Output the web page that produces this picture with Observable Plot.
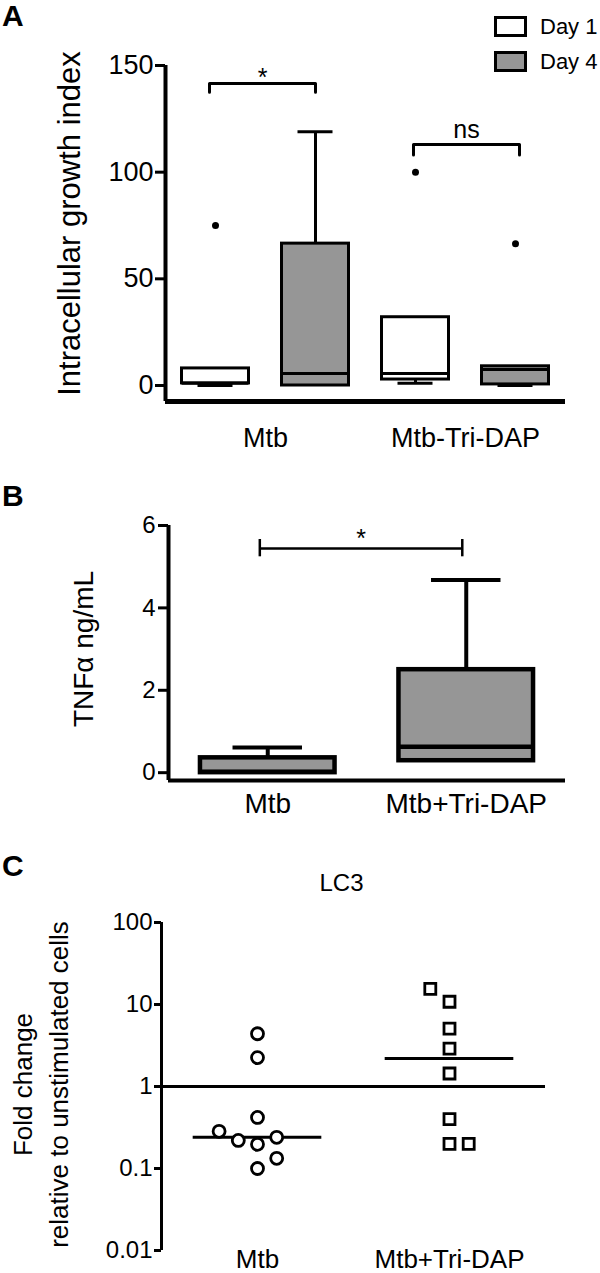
<!DOCTYPE html>
<html><head><meta charset="utf-8">
<script src="https://cdn.jsdelivr.net/npm/d3@7"></script>
<script src="https://cdn.jsdelivr.net/npm/@observablehq/plot@0.6"></script>
<style>
body{margin:0;background:#fff;font-family:"Liberation Sans",Arial,sans-serif;color:#000;}
#wrap{position:relative;width:600px;height:1273px;overflow:hidden;background:#fff;}
.panel{position:absolute;left:0;}
.letter{position:absolute;left:2px;font-weight:bold;font-size:30px;line-height:30px;}
#legend{position:absolute;left:494px;top:16px;}
.row{display:flex;align-items:center;height:21px;margin-bottom:14px;}
.sw{width:33px;height:21px;box-sizing:border-box;border:3px solid #000;}
.lt{margin-left:13px;font-size:22px;line-height:21px;}
</style></head>
<body>
<div id="wrap">
  <div class="panel" id="pA" style="top:0"></div>
  <div class="panel" id="pB" style="top:470px"></div>
  <div class="panel" id="pC" style="top:840px"></div>
  <div class="letter" style="top:1px">A</div>
  <div class="letter" style="top:481px">B</div>
  <div class="letter" style="top:851px">C</div>
  <div id="legend"></div>
</div>
<script>
const FONT = "Liberation Sans, Arial, sans-serif";
const GRAY = "#969696";

// ---------- Panel A data ----------
const aGroups = ["Mtb", "Mtb-Tri-DAP"];
const aDays = ["Day 1", "Day 4"];
const aFills = ["white", GRAY];
const aBoxGroup = [0, 0, 1, 1];
const aBoxDay = [0, 1, 0, 1];
const aMin = [0, 0, 1, 0];
const aQ1 = [1, 0, 2.8, 0.5];
const aMedian = [1, 5.6, 5.6, 7.5];
const aQ3 = [8, 66.5, 32, 9];
const aMax = [8, 119, 32, 9];
const aOutlier = [75, null, 100, 66.5];
const aYTicks = [0, 50, 100, 150];
const aYDomain = [-7.5, 150];
const aYTitle = "Intracellular growth index";
const aBracketLabel = ["*", "ns"];
const aBracketX1 = [0.44, 2.48];
const aBracketX2 = [1.5, 3.54];
const aBracketY = [141.6, 113];
const aBracketTip = [137.5, 108];
const aBracketLabelY = [144, 120];

// ---------- Panel B data ----------
const bGroups = ["Mtb", "Mtb+Tri-DAP"];
const bMin = [0, 0.29];
const bQ1 = [0, 0.29];
const bMedian = [0.02, 0.63];
const bQ3 = [0.36, 2.5];
const bMax = [0.61, 4.68];
const bYTicks = [0, 2, 4, 6];
const bYDomain = [-0.19, 6];
const bYTitle = "TNFα ng/mL";
const bBracketX1 = [0.46];
const bBracketX2 = [1.48];
const bBracketY = [5.44];
const bBracketTipLow = [5.24];
const bBracketTipHigh = [5.66];
const bBracketLabel = ["*"];
const bBracketLabelY = [5.68];

// ---------- Panel C data ----------
const cGroups = ["Mtb", "Mtb+Tri-DAP"];
const cTitle = "LC3";
const cYTitle = "Fold change\nrelative to unstimulated cells";
const cYTicks = [0.01, 0.1, 1, 10, 100];
const cMtb = [4.4, 2.25, 0.42, 0.284, 0.22, 0.197, 0.24, 0.133, 0.10];
const cMtbCol = [0, 0, 0, -2, -1, 0, 1, 1, 0];
const cTri = [15.5, 10.8, 5.07, 2.9, 1.44, 0.40, 0.2, 0.2];
const cTriCol = [-1, 0, 0, 0, 0, 0, 0, 1];
const cMedian = [0.24, 2.19];
const cReference = [1];

const baseStyle = {fontFamily: FONT, color: "black", background: "transparent", overflow: "visible"};

// ---------- Panel A ----------
const boxesA = aBoxGroup.map((g, i) => ({
  pos: g * 2 + aBoxDay[i] + 0.5, fill: aFills[aBoxDay[i]],
  min: aMin[i], q1: aQ1[i], med: aMedian[i], q3: aQ3[i], max: aMax[i], out: aOutlier[i]
}));
const hA = 0.335, cA = 0.175;
const bracketPtsA = aBracketLabel.flatMap((l, i) => [
  {b: i, x: aBracketX1[i], y: aBracketTip[i]},
  {b: i, x: aBracketX1[i], y: aBracketY[i]},
  {b: i, x: aBracketX2[i], y: aBracketY[i]},
  {b: i, x: aBracketX2[i], y: aBracketTip[i]}
]);
const bracketLblA = aBracketLabel.map((l, i) => ({l, x: (aBracketX1[i] + aBracketX2[i]) / 2, y: aBracketLabelY[i]}));

const plotA = Plot.plot({
  width: 600, height: 470, marginTop: 65, marginBottom: 69, marginLeft: 165, marginRight: 35,
  style: baseStyle,
  x: {domain: [0, 4]}, y: {domain: aYDomain},
  marks: [
    Plot.ruleX(boxesA, {x: "pos", y1: "q3", y2: "max", strokeWidth: 3}),
    Plot.ruleX(boxesA, {x: "pos", y1: "min", y2: "q1", strokeWidth: 3}),
    Plot.ruleY(boxesA.filter(d => d.max > d.q3), {y: "max", x1: d => d.pos - cA, x2: d => d.pos + cA, strokeWidth: 3}),
    Plot.ruleY(boxesA.filter(d => d.min < d.q1), {y: "min", x1: d => d.pos - cA, x2: d => d.pos + cA, strokeWidth: 3}),
    Plot.rect(boxesA, {x1: d => d.pos - hA, x2: d => d.pos + hA, y1: "q1", y2: "q3", fill: "fill", stroke: "black", strokeWidth: 3}),
    Plot.ruleY(boxesA, {y: "med", x1: d => d.pos - hA, x2: d => d.pos + hA, strokeWidth: 3}),
    Plot.dot(boxesA.filter(d => d.out != null), {x: "pos", y: "out", r: 3.5, fill: "black", stroke: null}),
    Plot.line(bracketPtsA, {x: "x", y: "y", z: "b", strokeWidth: 3}),
    Plot.text(bracketLblA, {x: "x", y: "y", text: "l", fontSize: 25, textAnchor: "middle", lineAnchor: "middle"}),
    Plot.axisY({ticks: aYTicks, tickSize: 10, tickPadding: 2, strokeWidth: 3, fontSize: 27, label: null}),
    Plot.axisX({ticks: [1, 3], tickFormat: d => aGroups[(d - 1) / 2], tickSize: 0, tickPadding: 26, fontSize: 27, label: null}),
    Plot.ruleX([0], {y1: aYDomain[0], y2: aYDomain[1], strokeWidth: 4}),
    Plot.ruleY([aYDomain[0]], {x1: 0, x2: 4, strokeWidth: 5}),
    Plot.text([aYTitle], {text: d => d, frameAnchor: "left", textAnchor: "middle", lineAnchor: "middle", rotate: -90, dx: -95, dy: -10, fontSize: 31})
  ]
});
document.getElementById("pA").appendChild(plotA);

// legend
const legend = document.getElementById("legend");
aDays.forEach((d, i) => {
  const row = document.createElement("div");
  row.className = "row";
  row.innerHTML = `<span class="sw" style="background:${aFills[i]}"></span><span class="lt">${d}</span>`;
  legend.appendChild(row);
});

// ---------- Panel B ----------
const boxesB = bGroups.map((g, i) => ({
  pos: i + 0.5, min: bMin[i], q1: bQ1[i], med: bMedian[i], q3: bQ3[i], max: bMax[i]
}));
const hB = 0.339, cB = 0.175;
const bracketB = bBracketLabel.map((l, i) => ({l, x1: bBracketX1[i], x2: bBracketX2[i], y: bBracketY[i], lo: bBracketTipLow[i], hi: bBracketTipHigh[i], ly: bBracketLabelY[i]}));
const plotB = Plot.plot({
  width: 600, height: 370, marginTop: 55, marginBottom: 60, marginLeft: 168, marginRight: 35,
  style: baseStyle,
  x: {domain: [0, 2]}, y: {domain: bYDomain},
  marks: [
    Plot.ruleX(boxesB, {x: "pos", y1: "q3", y2: "max", strokeWidth: 4}),
    Plot.ruleX(boxesB, {x: "pos", y1: "min", y2: "q1", strokeWidth: 4}),
    Plot.ruleY(boxesB.filter(d => d.max > d.q3), {y: "max", x1: d => d.pos - cB, x2: d => d.pos + cB, strokeWidth: 4}),
    Plot.ruleY(boxesB.filter(d => d.min < d.q1), {y: "min", x1: d => d.pos - cB, x2: d => d.pos + cB, strokeWidth: 4}),
    Plot.rect(boxesB, {x1: d => d.pos - hB, x2: d => d.pos + hB, y1: "q1", y2: "q3", fill: GRAY, stroke: "black", strokeWidth: 4.5}),
    Plot.ruleY(boxesB, {y: "med", x1: d => d.pos - hB, x2: d => d.pos + hB, strokeWidth: 4.5}),
    Plot.ruleY(bracketB, {y: "y", x1: "x1", x2: "x2", strokeWidth: 2.5}),
    Plot.ruleX(bracketB, {x: "x1", y1: "lo", y2: "hi", strokeWidth: 2.5}),
    Plot.ruleX(bracketB, {x: "x2", y1: "lo", y2: "hi", strokeWidth: 2.5}),
    Plot.text(bracketB, {x: d => (d.x1 + d.x2) / 2, y: "ly", text: "l", fontSize: 25, textAnchor: "middle", lineAnchor: "middle"}),
    Plot.axisY({ticks: bYTicks, tickFormat: d => String(d), tickSize: 10, tickPadding: 3, strokeWidth: 3, fontSize: 24, label: null}),
    Plot.axisX({ticks: [0.5, 1.5], tickFormat: d => bGroups[d - 0.5], tickSize: 0, tickPadding: 13, fontSize: 28, label: null}),
    Plot.ruleX([0], {y1: bYDomain[0], y2: bYDomain[1], strokeWidth: 4}),
    Plot.ruleY([bYDomain[0]], {x1: 0, x2: 2, strokeWidth: 4}),
    Plot.text([bYTitle], {text: d => d, frameAnchor: "left", textAnchor: "middle", lineAnchor: "middle", rotate: -90, dx: -84, dy: -4, fontSize: 28})
  ]
});
document.getElementById("pB").appendChild(plotB);

// ---------- Panel C ----------
const ptsMtb = cMtb.map((v, i) => ({v, x: 0.5 + cMtbCol[i] * 0.1}));
const ptsTri = cTri.map((v, i) => ({v, x: 1.5 + cTriCol[i] * 0.1}));
const medC = cMedian.map((v, i) => ({v, pos: i + 0.5}));
const hC = 0.335;
const plotC = Plot.plot({
  width: 600, height: 433, marginTop: 82, marginBottom: 23, marginLeft: 161, marginRight: 55,
  style: baseStyle,
  x: {domain: [0, 2]}, y: {type: "log", domain: [0.01, 100]},
  marks: [
    Plot.ruleY(cReference, {x1: 0, x2: 2, strokeWidth: 3}),
    Plot.ruleY(medC, {y: "v", x1: d => d.pos - hC, x2: d => d.pos + hC, strokeWidth: 3}),
    Plot.dot(ptsMtb, {x: "x", y: "v", r: 6, symbol: "circle", fill: "white", stroke: "black", strokeWidth: 2.8}),
    Plot.dot(ptsTri, {x: "x", y: "v", r: 6.2, symbol: "square", fill: "white", stroke: "black", strokeWidth: 2.8}),
    Plot.axisY({ticks: cYTicks, tickFormat: d => String(d), tickSize: 7, tickPadding: 2, strokeWidth: 3, fontSize: 24, label: null}),
    Plot.axisX({ticks: [0.5, 1.5], tickFormat: d => cGroups[d - 0.5], tickSize: 0, tickPadding: -1, fontSize: 26, label: null}),
    Plot.ruleX([0], {y1: 0.01, y2: 100, strokeWidth: 3}),
    Plot.text([cTitle], {text: d => d, frameAnchor: "top", textAnchor: "middle", lineAnchor: "middle", dx: -12, dy: -39, fontSize: 24}),
    Plot.text([cYTitle], {text: d => d, frameAnchor: "left", textAnchor: "middle", lineAnchor: "middle", rotate: -90, dx: -123, dy: -2, fontSize: 26, lineHeight: 1.4})
  ]
});
document.getElementById("pC").appendChild(plotC);
</script>
</body></html>
